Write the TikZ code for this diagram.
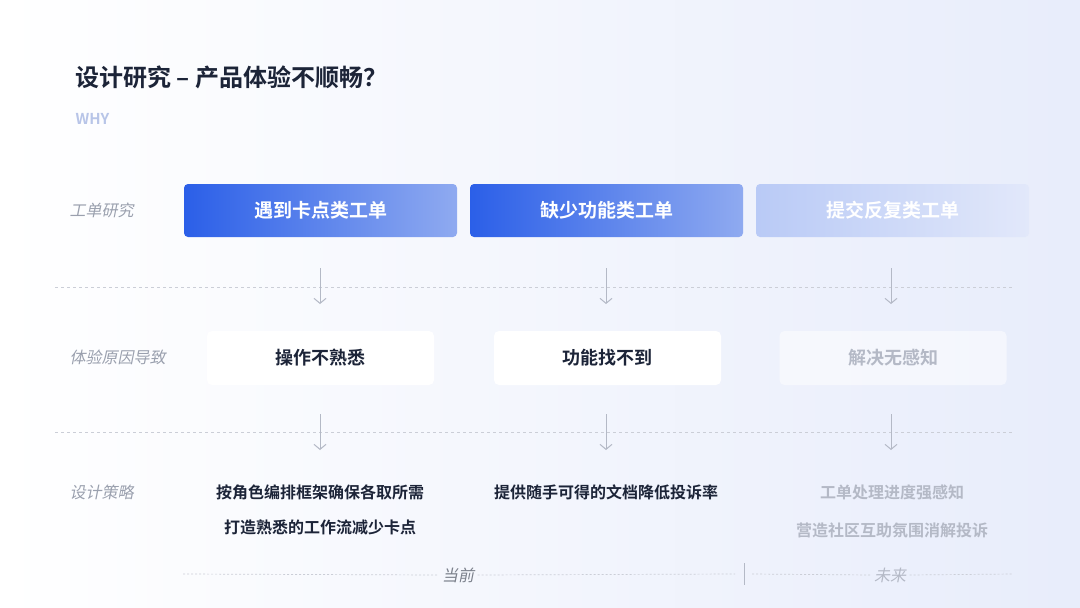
\documentclass[tikz,border=0pt]{standalone}
\usepackage{fontspec}
\setmainfont{Noto Sans CJK SC}
\newfontfamily\cjkbold{Noto Sans CJK SC Bold}
\newfontfamily\cjkslant[FakeSlant=0.2]{Noto Sans CJK SC}
\usetikzlibrary{positioning,arrows.meta}
\definecolor{bluedark}{HTML}{2B5FE8}
\definecolor{bluelight}{HTML}{8FAAF0}
\definecolor{fadedark}{HTML}{B9CAF6}
\definecolor{fadelight}{HTML}{E2E8FA}
\definecolor{inkdark}{HTML}{1C2438}
\definecolor{inkgray}{HTML}{9AA0AE}
\definecolor{inkfade}{HTML}{B4B9C6}
\tikzset{
  rowlabel/.style={anchor=west, font=\cjkslant\fontsize{16}{16}\selectfont, text=inkgray},
  topbox/.style={minimum width=273pt, minimum height=53pt, rounded corners=4pt, font=\cjkbold\fontsize{19}{19}\selectfont, text=white},
  causebox/.style={minimum width=227pt, minimum height=54pt, rounded corners=5pt, fill=white, font=\cjkbold\fontsize{18}{18}\selectfont},
  plan/.style={font=\cjkbold\fontsize{16}{16}\selectfont, text=inkdark},
  divider/.style={draw=inkfade!70, dashed, dash pattern=on 3pt off 3pt, line width=0.7pt},
  downarrow/.style={draw=inkfade, line width=1pt, -{Straight Barb[length=5pt,width=12pt]}}
}
\begin{document}
\begin{tikzpicture}[x=1pt,y=-1pt]
  % background
  \shade[left color=white, right color=fadelight!80] (0,0) rectangle (1080,608);
  \useasboundingbox (0,0) rectangle (1080,608);

  % heading
  \node[anchor=west, font=\cjkbold\fontsize{24}{24}\selectfont, text=inkdark] (title) at (72,77) {设计研究 – 产品体验不顺畅？};
  \node[anchor=west, font=\cjkbold\fontsize{15}{15}\selectfont, text=fadedark!70!inkfade] (why) at (72,119) {WHY};

  % row labels
  \node[rowlabel] (lresearch) at (66,210) {工单研究};
  \node[rowlabel] (lcause) at (66,357) {体验原因导致};
  \node[rowlabel] (lplan) at (66,492) {设计策略};

  % top boxes
  \node[topbox, left color=bluedark, right color=bluelight] (stuck) at (320.5,210.5) {遇到卡点类工单};
  \node[topbox, left color=bluedark, right color=bluelight] (missing) at (606.5,210.5) {缺少功能类工单};
  \node[topbox, left color=fadedark, right color=fadelight] (repeat) at (892.5,210.5) {提交反复类工单};

  % dividers
  \draw[divider] (55,287) -- (1013,287);
  \draw[divider] (55,432) -- (1013,432);

  % cause boxes
  \node[causebox, text=inkdark] (unfamiliar) at (320.5,358) {操作不熟悉};
  \node[causebox, text=inkdark] (notfound) at (607.5,358) {功能找不到};
  \node[causebox, fill opacity=0.5, text opacity=1, text=inkfade] (unaware) at (893,358) {解决无感知};

  % arrows
  \foreach \x in {320,606,891}{
    \draw[downarrow] (\x,268) -- (\x,304);
    \draw[downarrow] (\x,414) -- (\x,450);
  }

  % strategies
  \node[plan] (plana) at (320,492) {按角色编排框架确保各取所需};
  \node[plan] (planb) at (320,527) {打造熟悉的工作流减少卡点};
  \node[plan] (planc) at (606,492) {提供随手可得的文档降低投诉率};
  \node[plan, text=inkfade] (pland) at (892,492) {工单处理进度强感知};
  \node[plan, text=inkfade] (plane) at (892,530) {营造社区互助氛围消解投诉};

  % timeline
  \node[font=\cjkslant\fontsize{16}{16}\selectfont, text=inkgray!80!black] (now) at (458,575) {当前};
  \node[font=\cjkslant\fontsize{16}{16}\selectfont, text=inkfade] (future) at (890,575) {未来};
  \draw[divider, dash pattern=on 2pt off 2pt] (183,574) -- (now.west);
  \draw[divider, dash pattern=on 2pt off 2pt] (now.east) -- (735,574);
  \draw[inkfade, line width=0.8pt] (744,563) -- (744,585);
  \draw[divider, dash pattern=on 2pt off 2pt] (752,574) -- (future.west);
  \draw[divider, dash pattern=on 2pt off 2pt] (future.east) -- (1013,574);
\end{tikzpicture}
\end{document}
